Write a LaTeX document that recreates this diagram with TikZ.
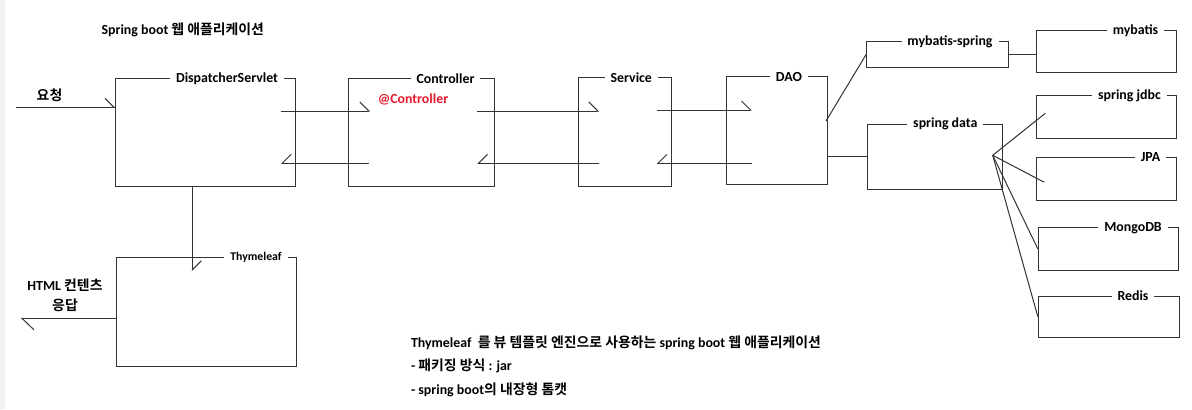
\documentclass[tikz,border=0pt]{standalone}
\usepackage{fontspec}
\setmainfont{Carlito}
\newfontfamily\kr{Noto Sans CJK KR}[BoldFont={Noto Sans CJK KR Bold}]
\usetikzlibrary{positioning,arrows.meta,fit,calc}
\definecolor{annored}{HTML}{E8192C}

\begin{document}
\begin{tikzpicture}[
  x=0.02cm, y=-0.02cm,
  every node/.style={font=\fontsize{7.9}{11.3}\selectfont\bfseries},
  box/.style={draw=black!80, line width=0.57pt, inner sep=0pt},
  boxtitle/.style={fill=white, inner xsep=3.4pt, inner ysep=1pt},
  link/.style={draw=black!80, line width=0.57pt},
  arr/.style={link, -{Straight Barb[left, length=0.18cm, width=0.36cm]}},
  back/.style={link, -{Straight Barb[right, length=0.18cm, width=0.36cm]}},
  bigarr/.style={link, -{Straight Barb[left, length=0.24cm, width=0.46cm]}}
]
\useasboundingbox (0,0) rectangle (1192,409);
\fill[black!5] (0,0) rectangle (5,409);

\node (apptitle) at (182.8,30) {Spring boot {\kr 웹 애플리케이션}};

\node[box, fit={(115.7,78.3) (295.3,186)}] (ds) {};
\node[boxtitle] (dstitle) at (227,78.3) {DispatcherServlet};
\node[box, fit={(348.3,78.3) (494.3,186)}] (ctl) {};
\node[boxtitle] (ctltitle) at (445.5,78.3) {Controller};
\node[text=annored] (anno) at (413,99) {@Controller};
\node[box, fit={(578.3,77.3) (671,186)}] (svc) {};
\node[boxtitle] (svctitle) at (631.3,77.3) {Service};
\node[box, fit={(726,76.7) (827,184.7)}] (dao) {};
\node[boxtitle] (daotitle) at (789,76.7) {DAO};

\node[box, fit={(866.7,41.7) (1008.7,67)}] (mbs) {};
\node[boxtitle] (mbstitle) at (950,41.7) {mybatis-spring};
\node[box, fit={(1036.7,30.7) (1176.7,72.7)}] (mb) {};
\node[boxtitle] (mbtitle) at (1135.5,30.7) {mybatis};
\node[box, fit={(867.3,124.3) (1002.7,189.3)}] (sd) {};
\node[boxtitle] (sdtitle) at (945.3,124.3) {spring data};
\node[box, fit={(1036.7,95.7) (1176.7,138)}] (jdbc) {};
\node[boxtitle] (jdbctitle) at (1129.5,95.7) {spring jdbc};
\node[box, fit={(1036.7,157.3) (1176.7,200)}] (jpa) {};
\node[boxtitle] (jpatitle) at (1150.5,157.3) {JPA};
\node[box, fit={(1038.3,227.7) (1178.7,270)}] (mongo) {};
\node[boxtitle] (mongotitle) at (1133,227.7) {MongoDB};
\node[box, fit={(1038.3,296) (1179,337.3)}] (redis) {};
\node[boxtitle] (redistitle) at (1133,296) {Redis};

\node[box, fit={(116.3,257.7) (296.3,366)}] (thy) {};
\node[boxtitle, font=\fontsize{6.7}{8}\selectfont\bfseries] (thytitle) at (256,257.7) {Thymeleaf};

\node (req) at (49.5,95) {\kr 요청};
\node[align=center] (resp) at (65,295) {HTML {\kr 컨텐츠}\\{\kr 응답}};

\coordinate (in) at (16,107.3);
\coordinate (out) at (20.7,318.3);
\coordinate (thyin) at (192.3,271);
\coordinate (dsout) at (281,111);
\coordinate (dsback) at (281,163.3);
\coordinate (ctlin) at (370,111);
\coordinate (ctlback) at (369,163.3);
\coordinate (ctlout) at (477.3,111);
\coordinate (ctlret) at (477.3,163.3);
\coordinate (svcin) at (599,111);
\coordinate (svcback) at (599,163.3);
\coordinate (svcout) at (656.7,110);
\coordinate (svcret) at (656.7,163.3);
\coordinate (daoin) at (751.7,110);
\coordinate (daoback) at (751.7,163.3);
\coordinate (daoout) at (826,121);
\coordinate (hub) at (992.7,155.3);
\coordinate (jdbcin) at (1045.3,113.3);
\coordinate (jpain) at (1044.3,182.3);

\draw[arr] (in) -- (in -| ds.west);
\draw[arr] (dsout) -- (ctlin);
\draw[back] (ctlback) -- (dsback);
\draw[arr] (ctlout) -- (svcin);
\draw[back] (svcback) -- (ctlret);
\draw[arr] (svcout) -- (daoin);
\draw[back] (daoback) -- (svcret);
\draw[arr] (thyin |- ds.south) -- (thyin);
\draw[bigarr] (out -| thy.west) -- (out);

\draw[link] (daoout) -- (mbs.west);
\draw[link] (mbs.east) -- (mbs.east -| mb.west);
\draw[link] (sd.west -| dao.east) -- (sd.west);
\draw[link] (hub) -- (jdbcin);
\draw[link] (hub) -- (jpain);
\draw[link] (hub) -- (mongo.west);
\draw[link] (hub) -- (redis.west);

\node[align=left, anchor=west, inner sep=0pt, font=\fontsize{7.9}{13.4}\selectfont\bfseries] (notes) at (410.7,366) {Thymeleaf \ {\kr 를 뷰 템플릿 엔진으로 사용하는} spring boot {\kr 웹 애플리케이션}\\- {\kr 패키징 방식} : jar\\- spring boot{\kr 의 내장형 톰캣}};
\end{tikzpicture}
\end{document}
